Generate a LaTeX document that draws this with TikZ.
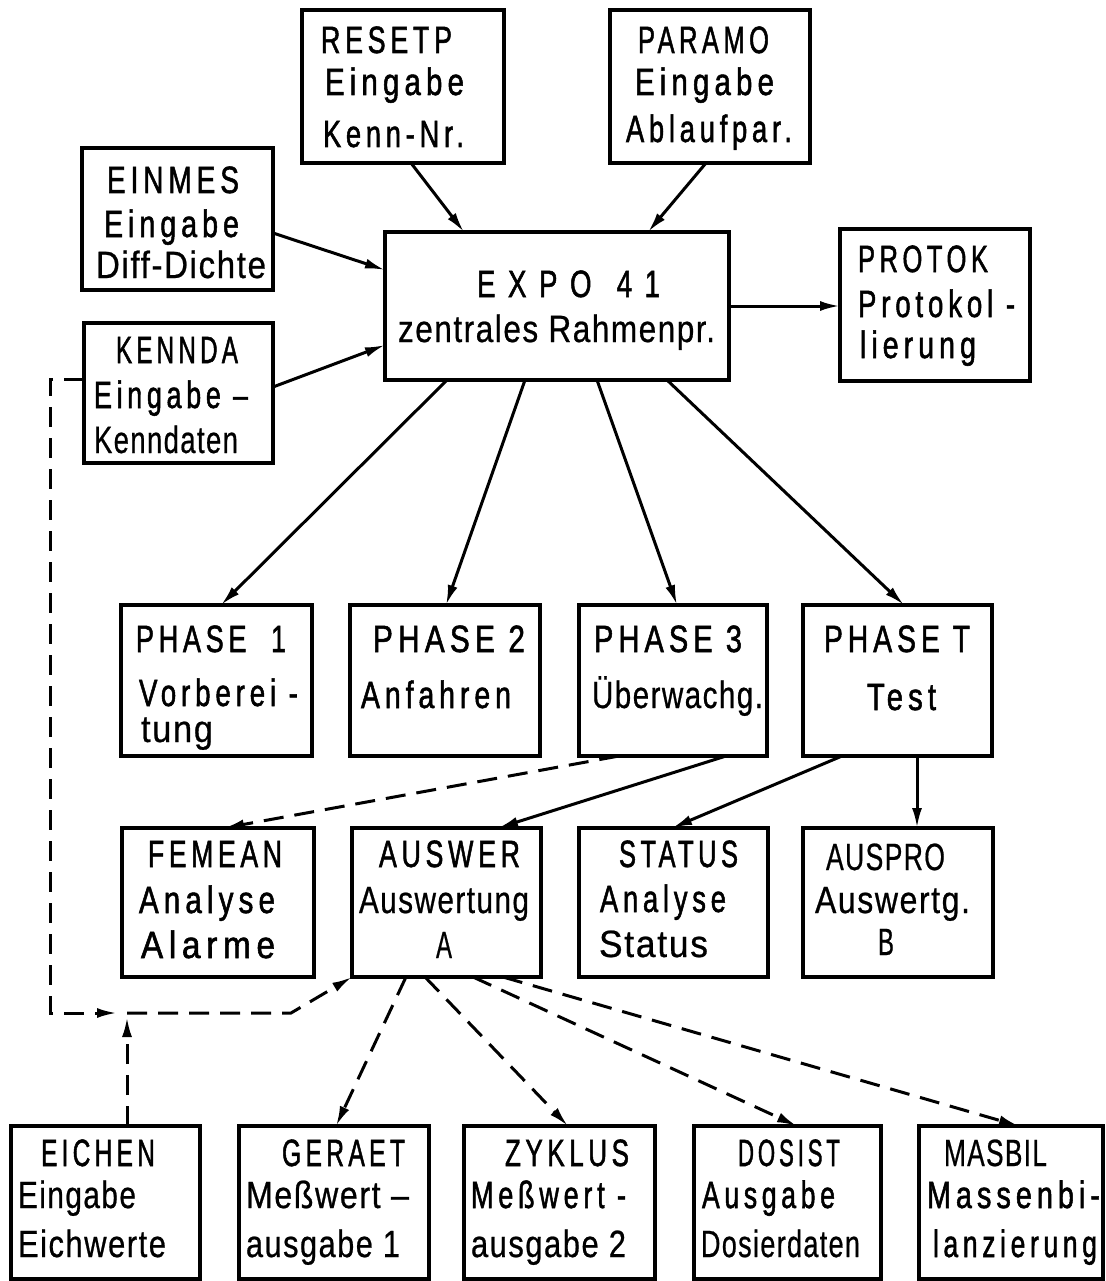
\documentclass[tikz,border=0pt]{standalone}
\usepackage{fontspec}
\usepackage{graphicx}
\setmainfont{Liberation Sans}[FakeStretch=0.8,LetterSpace=4,FakeBold=0.6]
\newfontfamily\spacedfont{Liberation Sans}[FakeStretch=0.8,LetterSpace=14,FakeBold=1.4]
\newcommand\spc{\spacedfont}
\usetikzlibrary{arrows.meta}
% one text line, squeezed or stretched to a given width
\newcommand\fitw[2]{\resizebox{#1pt}{\height}{#2}}
% text lines of a box: x offset / baseline offset / width / text
\newcommand\boxlines[2]{%
  \foreach \Lx/\Ly/\Lw/\Lt [count=\Li] in {#2}{%
    \node[txt] (#1-\Li) at ([shift={(\Lx,\Ly)}]#1.north west) {\fitw{\Lw}{\Lt}};}}
\tikzset{
  box/.style={draw, line width=4pt, anchor=north west, inner sep=0pt, outer sep=0pt},
  txt/.style={anchor=base west, inner sep=0pt, outer sep=0pt, font=\fontsize{38}{44}\selectfont},
  conn/.style={line width=3pt, -{Latex[length=20pt,width=10pt]}},
  dsh/.style={line width=3pt, dash pattern=on 20pt off 11pt},
}
\begin{document}
\begin{tikzpicture}[x=1pt,y=-1pt]
\fill[white] (0,0) rectangle (1105,1281);
\useasboundingbox (0,0) rectangle (1105,1281);

% top row
\node[box, minimum width=202pt, minimum height=153pt] (resetp) at (302,10) {};
\node[box, minimum width=200pt, minimum height=153pt] (paramo) at (610,10) {};
\node[box, minimum width=191pt, minimum height=142pt] (einmes) at (82,148) {};
\node[box, minimum width=189pt, minimum height=140pt] (kennda) at (84,323) {};
\node[box, minimum width=344pt, minimum height=148pt] (expo) at (385,232) {};
\node[box, minimum width=190pt, minimum height=152pt] (protok) at (840,229) {};

% phases
\node[box, minimum width=191pt, minimum height=151pt] (phase1) at (121,605) {};
\node[box, minimum width=190pt, minimum height=151pt] (phase2) at (350,605) {};
\node[box, minimum width=188pt, minimum height=151pt] (phase3) at (579,605) {};
\node[box, minimum width=189pt, minimum height=151pt] (phaset) at (803,605) {};

% analysis row
\node[box, minimum width=192pt, minimum height=149pt] (femean) at (122,828) {};
\node[box, minimum width=189pt, minimum height=149pt] (auswer) at (352,828) {};
\node[box, minimum width=189pt, minimum height=149pt] (status) at (579,828) {};
\node[box, minimum width=190pt, minimum height=149pt] (auspro) at (803,828) {};

% output row
\node[box, minimum width=189pt, minimum height=153pt] (eichen) at (11,1126) {};
\node[box, minimum width=190pt, minimum height=153pt] (geraet) at (239,1126) {};
\node[box, minimum width=191pt, minimum height=153pt] (zyklus) at (464,1126) {};
\node[box, minimum width=187pt, minimum height=153pt] (dosist) at (694,1126) {};
\node[box, minimum width=184pt, minimum height=153pt] (masbil) at (919,1126) {};

% texts
\boxlines{resetp}{19/43/131/{\spc RESETP}, 23/85/139/{\spc Eingabe}, 21/137/141/{\spc Kenn-Nr.}}
\boxlines{paramo}{28/43/131/{\spc PARAMO}, 25/85/139/{\spc Eingabe}, 16/132/166/{\spc Ablaufpar.}}
\boxlines{einmes}{25/45/132/{\spc EINMES}, 22/89/135/{\spc Eingabe}, 14/130/170/{Diff-Dichte}}
\boxlines{kennda}{32/40/122/{\spc KENNDA}, 10/85/154/{\spc Eingabe –}, 10/130/144/{Kenndaten}}
\boxlines{expo}{92/65/183/{\spc E\ X\ P\ O\ \ 4\ 1}, 13/110/317/{zentrales Rahmenpr.}}
\boxlines{protok}{18/43/130/{\spc PROTOK}, 18/88/157/{\spc Protokol -}, 20/129/116/{\spc lierung}}

\boxlines{phase1}{15/47/150/{\spc PHASE\ \ 1}, 18/101/159/{\spc Vorberei -}, 20/137/72/{tung}}
\boxlines{phase2}{23/47/152/{\spc PHASE 2}, 11/103/150/{\spc Anfahren}}
\boxlines{phase3}{15/47/148/{\spc PHASE 3}, 13/103/171/{Überwachg.}}
\boxlines{phaset}{21/47/146/{\spc PHASE T}, 64/105/69/{\spc Test}}

\boxlines{femean}{26/39/134/{\spc FEMEAN}, 17/85/136/{\spc Analyse}, 19/130/134/{\spc Alarme}}
\boxlines{auswer}{27/39/141/{\spc AUSWER}, 7/85/170/{Auswertung}, 84/130/16/{A}}
\boxlines{status}{40/39/119/{\spc STATUS}, 21/84/126/{\spc Analyse}, 20/129/109/{Status}}
\boxlines{auspro}{23/42/119/{AUSPRO}, 12/85/155/{Auswertg.}, 75/127/16/{B}}

\boxlines{eichen}{30/40/114/{\spc EICHEN}, 7/82/118/{Eingabe}, 7/131/148/{Eichwerte}}
\boxlines{geraet}{43/40/123/{\spc GERAET}, 7/82/163/{Meßwert –}, 7/131/154/{ausgabe 1}}
\boxlines{zyklus}{41/40/124/{\spc ZYKLUS}, 7/82/155/{\spc Meßwert -}, 7/131/155/{ausgabe 2}}
\boxlines{dosist}{44/40/102/{\spc DOSIST}, 8/82/133/{\spc Ausgabe}, 7/131/159/{Dosierdaten}}
\boxlines{masbil}{25/40/103/{MASBIL}, 8/82/173/{\spc Massenbi-}, 14/131/164/{\spc lanzierung}}

% inputs into the frame program
\draw[conn] ([xshift=109pt]resetp.south west) -- ([xshift=79pt]expo.north west);
\draw[conn] ([xshift=96pt]paramo.south west) -- ([xshift=263pt]expo.north west);
\draw[conn] ([yshift=-85pt]einmes.north east) -- ([yshift=-38pt]expo.north west);
\draw[conn] ([yshift=-64pt]kennda.north east) -- ([yshift=-113pt]expo.north west);
\draw[conn] ([yshift=-74pt]expo.north east) -- ([yshift=-74pt]expo.north east -| protok.west);

% frame program to the phases
\draw[conn] ([xshift=62pt]expo.south west) -- ([xshift=100pt]phase1.north west);
\draw[conn] ([xshift=140pt]expo.south west) -- ([xshift=96pt]phase2.north west);
\draw[conn] ([xshift=212pt]expo.south west) -- ([xshift=98pt]phase3.north west);
\draw[conn] ([xshift=282pt]expo.south west) -- ([xshift=101pt]phaset.north west);

% phases to the analysis routines
\draw[conn, dsh] ([xshift=40pt]phase3.south west) -- ([xshift=102pt]femean.north west);
\draw[conn] ([xshift=147pt]phase3.south west) -- ([xshift=146pt]auswer.north west);
\draw[conn] ([xshift=39pt]phaset.south west) -- ([xshift=93pt]status.north west);
\draw[conn] ([xshift=114pt]phaset.south west) -- ([xshift=114pt]auspro.north west);

% evaluation to the output routines
\draw[conn, dsh] ([xshift=54pt]auswer.south west) -- ([xshift=97pt]geraet.north west);
\draw[conn, dsh] ([xshift=73pt]auswer.south west) -- ([xshift=104pt]zyklus.north west);
\draw[conn, dsh] ([xshift=121pt]auswer.south west) -- ([xshift=103pt]dosist.north west);
\draw[conn, dsh] ([xshift=151pt]auswer.south west) -- ([xshift=100pt]masbil.north west);

% characteristic data and calibration values into the evaluation
\coordinate (j) at (127,1013);
\draw[conn, dsh] ([yshift=-56pt]kennda.north west) -- ++(-34,0) |- ([xshift=-10pt]j);
\draw[conn, dsh] (j) -- ++(164,0) -- (auswer.south west);
\draw[conn, dsh] ([xshift=116pt]eichen.north west) -- ([yshift=-4pt]j);
\end{tikzpicture}
\end{document}
